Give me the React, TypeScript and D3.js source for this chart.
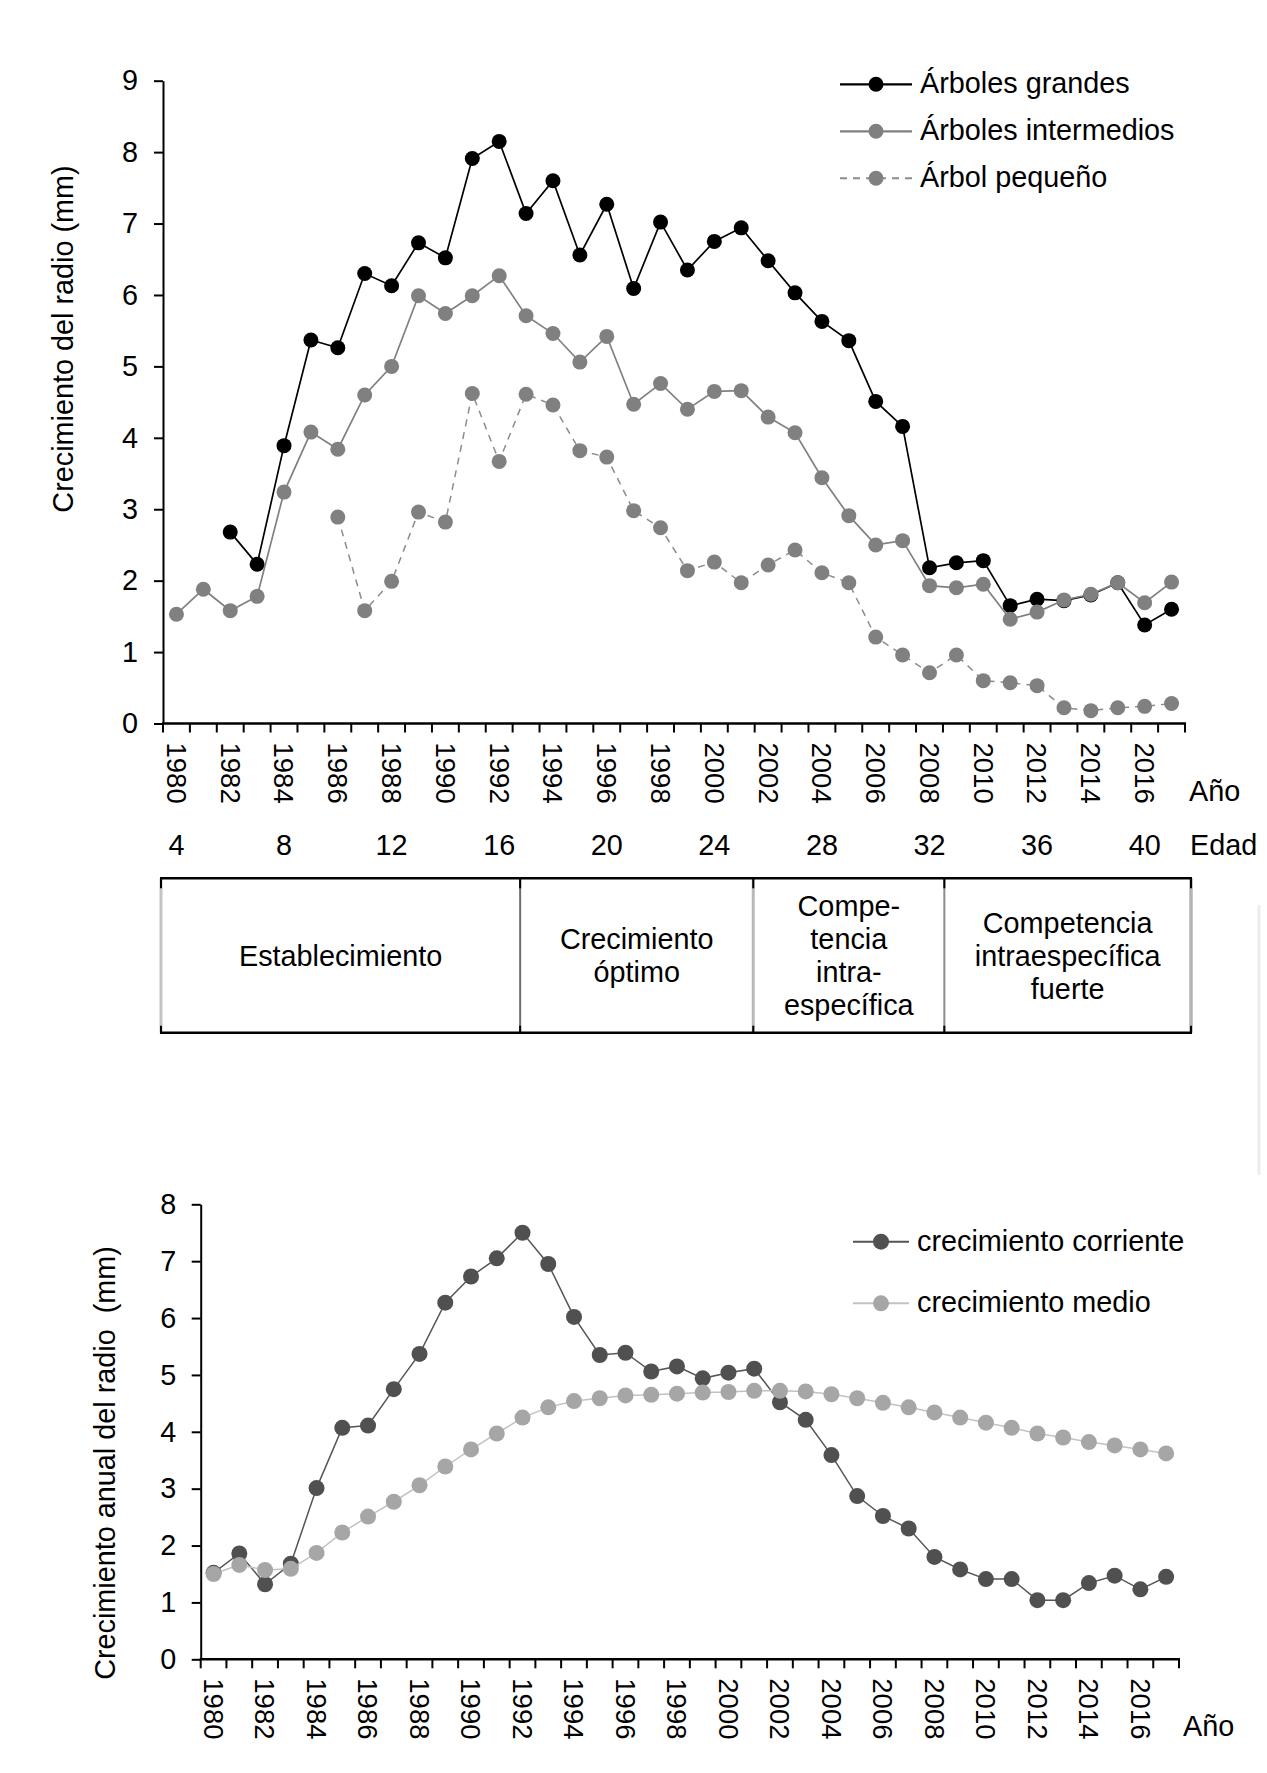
import { useEffect, useRef } from "react";
import * as d3 from "d3";

const FONT = "'Liberation Sans', Arial, sans-serif";
const FS = 28.8;
const W = 1267;
const H = 1773;

// categorías (años) y etiquetas
const years = [
  1980, 1981, 1982, 1983, 1984, 1985, 1986, 1987, 1988, 1989,
  1990, 1991, 1992, 1993, 1994, 1995, 1996, 1997, 1998, 1999,
  2000, 2001, 2002, 2003, 2004, 2005, 2006, 2007, 2008, 2009,
  2010, 2011, 2012, 2013, 2014, 2015, 2016, 2017,
];
const yearLabels = [
  1980, 1982, 1984, 1986, 1988, 1990, 1992, 1994, 1996, 1998,
  2000, 2002, 2004, 2006, 2008, 2010, 2012, 2014, 2016,
];
const ageYears = [1980, 1984, 1988, 1992, 1996, 2000, 2004, 2008, 2012, 2016];
const ageLabels = [4, 8, 12, 16, 20, 24, 28, 32, 36, 40];
const topYTicks = [0, 1, 2, 3, 4, 5, 6, 7, 8, 9];
const bottomYTicks = [0, 1, 2, 3, 4, 5, 6, 7, 8];

// gráfico superior
const grandes = [
  null, null, 2.68, 2.23, 3.89, 5.37, 5.26, 6.3, 6.13, 6.73,
  6.52, 7.91, 8.15, 7.14, 7.6, 6.56, 7.27, 6.09, 7.02, 6.35,
  6.75, 6.94, 6.48, 6.03, 5.63, 5.36, 4.51, 4.16, 2.18, 2.25,
  2.28, 1.65, 1.74, 1.72, 1.8, 1.97, 1.38, 1.6,
];
const intermedios = [
  1.53, 1.88, 1.58, 1.78, 3.24, 4.08, 3.84, 4.6, 5.0, 5.99,
  5.74, 5.99, 6.27, 5.71, 5.46, 5.06, 5.42, 4.47, 4.76, 4.4,
  4.65, 4.66, 4.29, 4.07, 3.44, 2.91, 2.5, 2.56, 1.93, 1.9,
  1.95, 1.46, 1.56, 1.73, 1.81, 1.97, 1.69, 1.98,
];
const pequeno = [
  null, null, null, null, null, null, 2.89, 1.58, 1.99, 2.96,
  2.82, 4.62, 3.67, 4.61, 4.46, 3.82, 3.73, 2.98, 2.74, 2.14,
  2.26, 1.97, 2.22, 2.43, 2.11, 1.97, 1.21, 0.96, 0.71, 0.96,
  0.6, 0.57, 0.53, 0.22, 0.18, 0.22, 0.24, 0.28,
];

// gráfico inferior
const corriente = [
  1.52, 1.86, 1.32, 1.68, 3.01, 4.07, 4.11, 4.75, 5.37, 6.27,
  6.73, 7.05, 7.5, 6.95, 6.02, 5.35, 5.39, 5.06, 5.15, 4.94,
  5.04, 5.11, 4.52, 4.21, 3.59, 2.87, 2.52, 2.3, 1.8, 1.58,
  1.41, 1.41, 1.04, 1.04, 1.34, 1.47, 1.23, 1.45,
];
const medio = [
  1.5, 1.66, 1.57, 1.59, 1.87, 2.23, 2.51, 2.77, 3.06, 3.39,
  3.69, 3.97, 4.25, 4.43, 4.54, 4.59, 4.64, 4.65, 4.67, 4.69,
  4.7, 4.72, 4.72, 4.71, 4.66, 4.59, 4.51, 4.43, 4.34, 4.25,
  4.16, 4.07, 3.97, 3.9, 3.82, 3.76, 3.69, 3.62,
];

// fases (límites en años desde 1980)
const phaseBreaks = [0, 13.25, 21.85, 28.9, 38];
const phaseTexts = [
  ["Establecimiento"],
  ["Crecimiento", "óptimo"],
  ["Compe-", "tencia", "intra-", "específica"],
  ["Competencia", "intraespecífica", "fuerte"],
];

type Style = { stroke: string; width: number; dash?: string; fill: string; r: number };
type Sel = d3.Selection<SVGSVGElement, unknown, null, undefined>;

function drawAxes(
  svg: Sel,
  x: d3.ScaleBand<number>,
  y: d3.ScaleLinear<number, number>,
  yTicks: number[],
  pad: number
) {
  const [x0, x1] = x.range();
  const y0 = y(0);

  svg
    .append("g")
    .attr("transform", `translate(${x0},0)`)
    .call(d3.axisLeft(y).tickValues(yTicks).tickSize(9).tickSizeOuter(0).tickPadding(pad).tickFormat(d3.format("d")))
    .call((g) => g.selectAll("path, line").attr("stroke", "#000").attr("stroke-width", 2))
    .call((g) =>
      g.selectAll("text").attr("font-size", FS).attr("font-family", FONT).attr("fill", "#000")
    );

  svg
    .append("line")
    .attr("x1", x0 - 1)
    .attr("x2", x1 + 1)
    .attr("y1", y0)
    .attr("y2", y0)
    .attr("stroke", "#000")
    .attr("stroke-width", 2.5);

  // marcas entre categorías
  const edges = [...x.domain().map((d) => x(d)!), x1];
  svg
    .append("g")
    .selectAll("line")
    .data(edges)
    .join("line")
    .attr("x1", (d) => d)
    .attr("x2", (d) => d)
    .attr("y1", y0)
    .attr("y2", y0 + 9)
    .attr("stroke", "#000")
    .attr("stroke-width", 2);

  svg
    .append("g")
    .selectAll("text")
    .data(yearLabels)
    .join("text")
    .attr("transform", (d) => `translate(${x(d)! + x.bandwidth() / 2},${y0 + 19}) rotate(90)`)
    .attr("dy", "0.35em")
    .attr("font-size", 27.5)
    .attr("font-family", FONT)
    .text((d) => d);

  svg
    .append("text")
    .attr("x", x1 + 4)
    .attr("y", y0 + 77)
    .attr("font-size", FS)
    .attr("font-family", FONT)
    .text("Año");
}

function drawSeries(
  svg: Sel,
  x: d3.ScaleBand<number>,
  y: d3.ScaleLinear<number, number>,
  values: (number | null)[],
  s: Style
) {
  const pts = years
    .map((yr, i) => ({ yr, v: values[i] }))
    .filter((d) => d.v != null) as { yr: number; v: number }[];
  const cx = (d: { yr: number }) => x(d.yr)! + x.bandwidth() / 2;
  const line = d3
    .line<{ yr: number; v: number }>()
    .x(cx)
    .y((d) => y(d.v));

  svg
    .append("path")
    .datum(pts)
    .attr("d", line)
    .attr("fill", "none")
    .attr("stroke", s.stroke)
    .attr("stroke-width", s.width)
    .attr("stroke-dasharray", s.dash ?? null);

  svg
    .append("g")
    .selectAll("circle")
    .data(pts)
    .join("circle")
    .attr("cx", cx)
    .attr("cy", (d) => y(d.v))
    .attr("r", s.r)
    .attr("fill", s.fill);
}

function drawLegend(
  svg: Sel,
  items: { label: string; style: Style }[],
  lx0: number,
  lx1: number,
  top: number,
  step: number
) {
  const g = svg.append("g");
  items.forEach((it, i) => {
    const yy = top + i * step;
    g.append("line")
      .attr("x1", lx0)
      .attr("x2", lx1)
      .attr("y1", yy)
      .attr("y2", yy)
      .attr("stroke", it.style.stroke)
      .attr("stroke-width", it.style.width + 0.5)
      .attr("stroke-dasharray", it.style.dash ?? null);
    g.append("circle")
      .attr("cx", (lx0 + lx1) / 2)
      .attr("cy", yy)
      .attr("r", it.style.r)
      .attr("fill", it.style.fill);
    g.append("text")
      .attr("x", lx1 + 8)
      .attr("y", yy + 9)
      .attr("font-size", FS)
      .attr("font-family", FONT)
      .text(it.label);
  });
}

export default function App() {
  const svgRef = useRef<SVGSVGElement | null>(null);

  useEffect(() => {
    if (!svgRef.current) return;
    const svg = d3.select(svgRef.current);
    svg.selectAll("*").remove();
    svg.append("rect").attr("width", W).attr("height", H).attr("fill", "#fff");

    // ---------- gráfico superior ----------
    const xT = d3.scaleBand<number>().domain(years).range([163, 1185]);
    const yT = d3.scaleLinear().domain([0, 9]).range([723.5, 80.7]);

    drawAxes(svg, xT, yT, topYTicks, 16);

    const sGrandes: Style = { stroke: "#000", width: 1.7, fill: "#000", r: 7.5 };
    const sInter: Style = { stroke: "#808080", width: 1.7, fill: "#808080", r: 7.5 };
    const sPeq: Style = { stroke: "#8c8c8c", width: 1.5, dash: "7,6", fill: "#808080", r: 7.5 };

    drawSeries(svg, xT, yT, grandes, sGrandes);
    drawSeries(svg, xT, yT, intermedios, sInter);
    drawSeries(svg, xT, yT, pequeno, sPeq);

    drawLegend(
      svg,
      [
        { label: "Árboles grandes", style: sGrandes },
        { label: "Árboles intermedios", style: sInter },
        { label: "Árbol pequeño", style: sPeq },
      ],
      840,
      912,
      84.3,
      47
    );

    svg
      .append("text")
      .attr("transform", `translate(63,339) rotate(-90)`)
      .attr("text-anchor", "middle")
      .attr("dy", "0.35em")
      .attr("font-size", FS)
      .attr("font-family", FONT)
      .text("Crecimiento del radio (mm)");

    // fila de edad
    svg
      .append("g")
      .selectAll("text")
      .data(ageYears)
      .join("text")
      .attr("x", (d) => xT(d)! + xT.bandwidth() / 2)
      .attr("y", 855)
      .attr("text-anchor", "middle")
      .attr("font-size", FS)
      .attr("font-family", FONT)
      .text((d, i) => ageLabels[i]);
    svg
      .append("text")
      .attr("x", 1190)
      .attr("y", 855)
      .attr("font-size", FS)
      .attr("font-family", FONT)
      .text("Edad");

    // caja de fases
    const xPhase = d3.scaleLinear().domain([0, years.length]).range([161, 1191]);
    const boxTop = 878.3;
    const boxBot = 1032.7;
    const box = svg.append("g");
    const bx = phaseBreaks.map((b) => xPhase(b));
    const edgeStyle = [
      { c: "#c4c4c4", w: 3 },
      { c: "#6e6e6e", w: 2 },
      { c: "#b8b8b8", w: 3 },
      { c: "#8c8c8c", w: 2 },
      { c: "#b4b4b4", w: 3.5 },
    ];
    bx.forEach((xx, i) => {
      box.append("line")
        .attr("x1", xx).attr("x2", xx)
        .attr("y1", boxTop).attr("y2", boxBot)
        .attr("stroke", edgeStyle[i].c)
        .attr("stroke-width", edgeStyle[i].w);
      box.append("line")
        .attr("x1", xx).attr("x2", xx)
        .attr("y1", boxTop).attr("y2", boxTop + 10)
        .attr("stroke", "#000").attr("stroke-width", 2);
      box.append("line")
        .attr("x1", xx).attr("x2", xx)
        .attr("y1", boxBot - 7).attr("y2", boxBot)
        .attr("stroke", "#000").attr("stroke-width", 2);
    });
    [boxTop, boxBot].forEach((yy) =>
      box.append("line")
        .attr("x1", bx[0] - 1).attr("x2", bx[bx.length - 1] + 1)
        .attr("y1", yy).attr("y2", yy)
        .attr("stroke", "#000").attr("stroke-width", 2.5)
    );
    const midY = (boxTop + boxBot) / 2;
    phaseTexts.forEach((lines, i) => {
      const cx = (bx[i] + bx[i + 1]) / 2;
      lines.forEach((t, j) => {
        box.append("text")
          .attr("x", cx)
          .attr("y", midY + (j - (lines.length - 1) / 2) * 33)
          .attr("dy", "0.35em")
          .attr("text-anchor", "middle")
          .attr("font-size", FS)
          .attr("font-family", FONT)
          .text(t);
      });
    });

    // línea tenue a la derecha
    svg.append("line")
      .attr("x1", 1259).attr("x2", 1259)
      .attr("y1", 905).attr("y2", 1175)
      .attr("stroke", "#ececec").attr("stroke-width", 3);

    // ---------- gráfico inferior ----------
    const xB = d3.scaleBand<number>().domain(years).range([200.7, 1179]);
    const yB = d3.scaleLinear().domain([0, 8]).range([1659.3, 1204.3]);

    drawAxes(svg, xB, yB, bottomYTicks, 15.5);

    const sCorr: Style = { stroke: "#555", width: 1.5, fill: "#505050", r: 8 };
    const sMedio: Style = { stroke: "#c2c2c2", width: 1.5, fill: "#a6a6a6", r: 8 };

    drawSeries(svg, xB, yB, corriente, sCorr);
    drawSeries(svg, xB, yB, medio, sMedio);

    drawLegend(
      svg,
      [
        { label: "crecimiento corriente", style: sCorr },
        { label: "crecimiento medio", style: sMedio },
      ],
      853,
      909,
      1241.7,
      61.6
    );

    svg
      .append("text")
      .attr("transform", `translate(105,1463) rotate(-90)`)
      .attr("text-anchor", "middle")
      .attr("dy", "0.35em")
      .attr("font-size", FS)
      .attr("font-family", FONT)
      .attr("xml:space", "preserve")
      .style("white-space", "pre")
      .text("Crecimiento anual del radio  (mm)");
  }, []);

  return (
    <svg
      ref={svgRef}
      width={W}
      height={H}
      style={{ position: "absolute", left: 0, top: 0, display: "block" }}
    />
  );
}
